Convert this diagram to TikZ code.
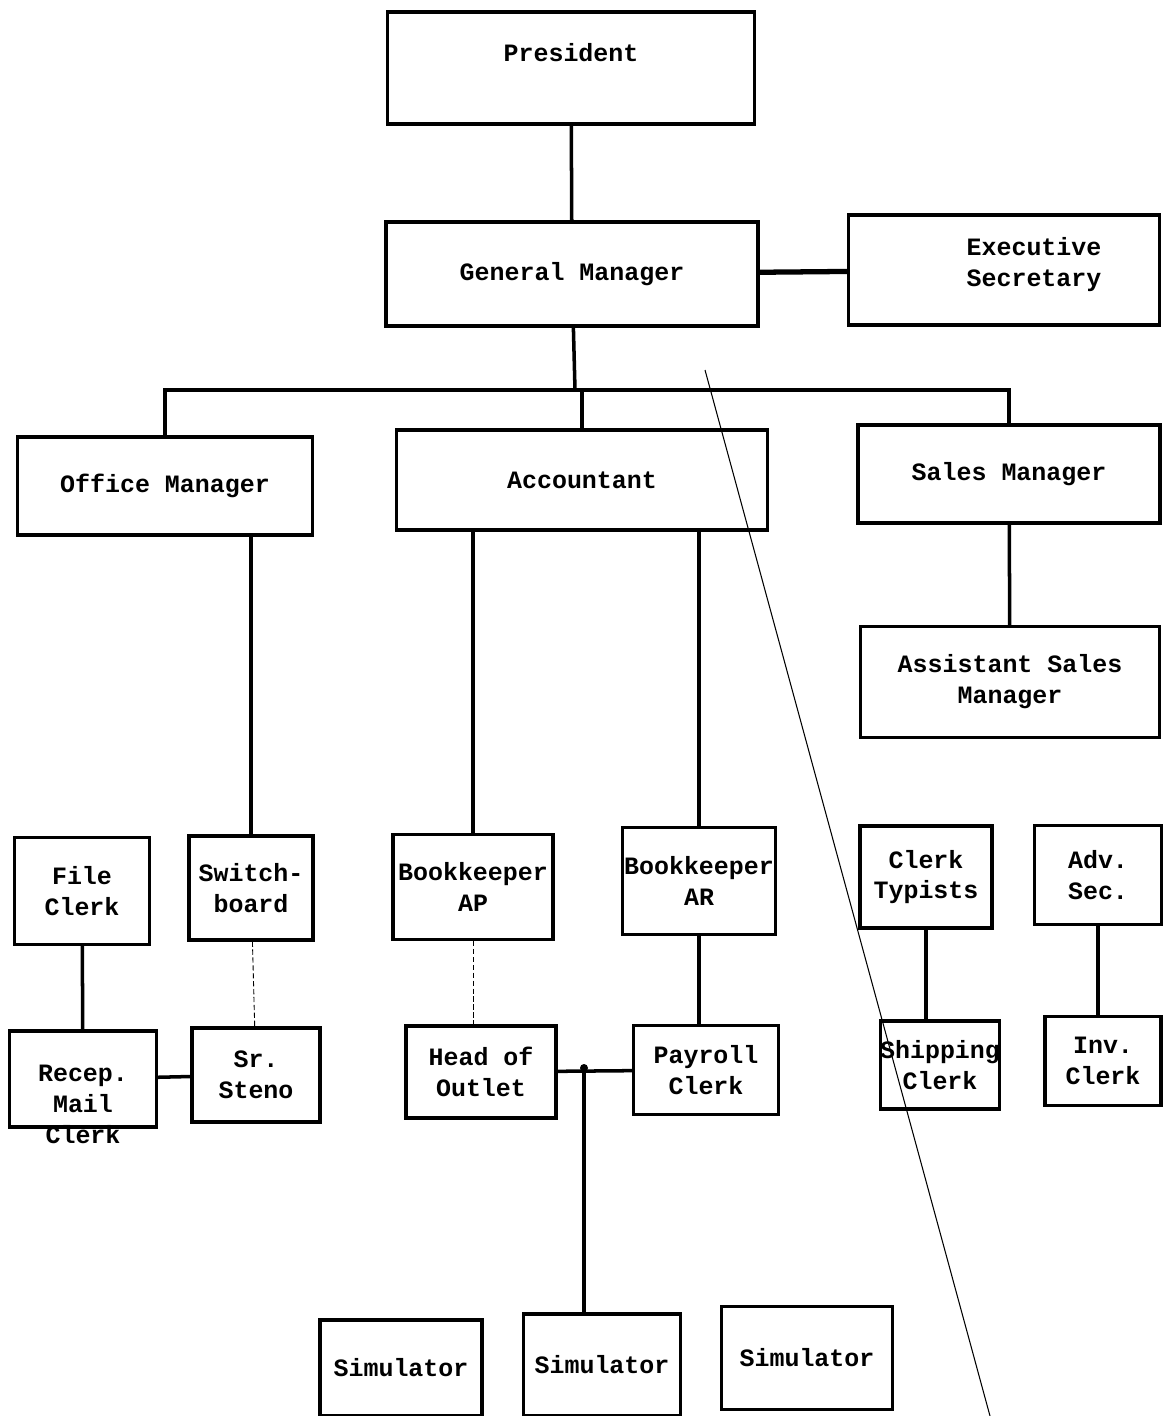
\documentclass[tikz,border=0pt]{standalone}
\usepackage{fontspec}
\setmonofont{Liberation Mono}
\usetikzlibrary{calc}

\tikzset{
  boxtext/.style={align=center, inner sep=0pt,
    font=\ttfamily\bfseries\fontsize{14.2}{17.6}\selectfont},
  box/.style={draw, line width=1.8pt, boxtext},
  link/.style={line width=2pt},
  weaklink/.style={line width=0.5pt, dashed, dash pattern=on 3pt off 1.5pt}
}

\begin{document}
\begin{tikzpicture}[x=0.02cm,y=-0.02cm]

\useasboundingbox[fill=white] (0,0) rectangle (1163,1416);

% top of the chart
\node[box, minimum width=7.34cm, minimum height=2.24cm,
  label={[boxtext, yshift=0.3cm]center:President}] (pres) at (571,68) {};
\node[box, minimum width=7.44cm, minimum height=2.08cm] (gm) at (572,274) {General Manager};
\node[box, minimum width=6.22cm, minimum height=2.20cm,
  label={[boxtext, xshift=0.6cm, yshift=0.1cm]center:{Executive\\Secretary}}] (es) at (1004,270) {};

% managers
\node[box, minimum width=5.90cm, minimum height=1.96cm] (om) at (165,486) {Office Manager};
\node[box, minimum width=7.42cm, minimum height=2.00cm] (acc) at (582,480) {Accountant};
\node[box, minimum width=6.04cm, minimum height=1.96cm] (sm) at (1009,474) {Sales Manager};
\node[box, minimum width=5.98cm, minimum height=2.22cm] (asm) at (1010,682) {Assistant Sales\\Manager};

% staff
\node[box, minimum width=2.70cm, minimum height=2.14cm] (fc) at (82,891) {File\\Clerk};
\node[box, minimum width=2.48cm, minimum height=2.08cm] (sw) at (251,888) {Switch-\\board};
\node[box, minimum width=3.20cm, minimum height=2.10cm] (bap) at (473,887) {Bookkeeper\\AP};
\node[box, minimum width=3.06cm, minimum height=2.14cm] (bar) at (699,881) {Bookkeeper\\AR};
\node[box, minimum width=2.64cm, minimum height=2.04cm] (ct) at (926,877) {Clerk\\Typists};
\node[box, minimum width=2.54cm, minimum height=1.98cm] (adv) at (1098,875) {Adv.\\Sec.};

\node[box, minimum width=2.94cm, minimum height=1.92cm,
  label={[boxtext, yshift=-0.5cm]center:{Recep.\\Mail\\Clerk}}] (rmc) at (83,1079) {};
\node[box, minimum width=2.56cm, minimum height=1.88cm] (ss) at (256,1075) {Sr.\\Steno};
\node[box, minimum width=3.00cm, minimum height=1.84cm] (ho) at (481,1072) {Head of\\Outlet};
\node[box, minimum width=2.90cm, minimum height=1.78cm] (pc) at (706,1070) {Payroll\\Clerk};
\node[box, minimum width=2.36cm, minimum height=1.76cm] (shc) at (940,1065) {Shipping\\Clerk};
\node[box, minimum width=2.32cm, minimum height=1.78cm] (inv) at (1103,1061) {Inv.\\Clerk};

% simulators
\node[box, minimum width=3.24cm, minimum height=1.92cm] (sim1) at (401,1368) {Simulator};
\node[box, minimum width=3.14cm, minimum height=2.04cm] (sim2) at (602,1365) {Simulator};
\node[box, minimum width=3.42cm, minimum height=2.06cm] (sim3) at (807,1358) {Simulator};

% connectors
\coordinate (bus) at (575,390);
\coordinate (jn) at (584,1068);

\draw[link] (pres) -- (gm);
\draw[line width=3pt] (gm) -- (es);
\draw[link] (gm) -- (bus);
\draw[link] (om.north) |- (bus) -| (sm.north);
\draw[link] (acc.north) -- (acc.north |- bus);
\draw[link] (sm) -- (asm);

\draw[link] (sw.north) -- (sw.north |- om.south);
\draw[link] (bap.north) -- (bap.north |- acc.south);
\draw[link] (bar.north) -- (bar.north |- acc.south);

\draw[link] (fc) -- (rmc);
\draw[weaklink] (sw) -- (ss);
\draw[link] (rmc) -- (ss);
\draw[weaklink] (bap.south) -- (bap.south |- ho.north);
\draw[link] (bar.south) -- (bar.south |- pc.north);
\draw[link] (ho) -- (pc);
\fill (jn) circle (4);
\draw[link] (jn) -- (jn |- sim2.north);
\draw[link] (ct.south) -- (ct.south |- shc.north);
\draw[link] (adv) -- (adv |- inv.north);

% crease across the sheet
\coordinate (crease-a) at (705,370);
\coordinate (crease-b) at (990,1416);
\draw[line width=0.6pt] (crease-a) -- (crease-b);

\end{tikzpicture}
\end{document}
